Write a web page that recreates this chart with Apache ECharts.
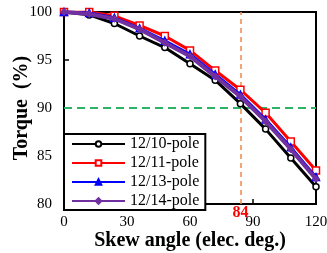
<!DOCTYPE html>
<html><head><meta charset="utf-8">
<script src="https://cdn.jsdelivr.net/npm/echarts@6/dist/echarts.min.js"></script>
<style>html,body{margin:0;padding:0;background:#fff}#c{width:327px;height:253px}</style>
</head><body><div id="c"></div>
<script>
const skewAngles = [0, 12, 24, 36, 48, 60, 72, 84, 96, 108, 120];
const pole10 = [100, 99.7, 98.8, 97.5, 96.3, 94.6, 92.9, 90.45, 87.8, 84.8, 81.8];
const pole11 = [100, 100.0, 99.6, 98.6, 97.5, 96.0, 93.9, 91.9, 89.5, 86.5, 83.5];
const pole13 = [100, 99.9, 99.4, 98.3, 97.0, 95.6, 93.5, 91.4, 88.8, 85.9, 82.8];
const pole14 = [100, 99.8, 99.3, 98.2, 96.8, 95.4, 93.3, 91.2, 88.6, 85.7, 82.6];
const seriesNames = ['12/10-pole', '12/11-pole', '12/13-pole', '12/14-pole'];
const xTicks = [0, 30, 60, 90, 120];
const yTicks = [80, 85, 90, 95, 100];
const refAngle = 84;
const refTorque = 90;

const font = 'Liberation Serif';
const pair = arr => skewAngles.map((x, i) => [x, arr[i]]);
const chart = echarts.init(document.getElementById('c'), null, {renderer: 'canvas'});

const styles = [
  {color: '#000000', symbol: 'circle', size: 6, fill: '#ffffff', width: 3},
  {color: '#ff0000', symbol: 'rect', size: 7, fill: '#ffffff', width: 3},
  {color: '#0000ff', symbol: 'triangle', size: 7, fill: '#0000ff', width: 3},
  {color: '#7030a0', symbol: 'diamond', size: 6, fill: '#7030a0', width: 4}
];
const data = [pole10, pole11, pole13, pole14];

const series = data.map((d, i) => ({
  name: seriesNames[i],
  type: 'line',
  data: pair(d),
  symbol: styles[i].symbol,
  symbolSize: styles[i].size,
  showAllSymbol: true,
  lineStyle: {color: styles[i].color, width: styles[i].width},
  itemStyle: {color: styles[i].fill, borderColor: styles[i].color, borderWidth: 1.5},
  z: 3 + i
}));

series[0].markLine = {
  silent: true,
  symbol: 'none',
  z: 2,
  data: [
    {xAxis: refAngle, lineStyle: {color: '#f0884a', type: [5, 4], width: 1.5},
     label: {show: true, position: 'start', formatter: String(refAngle), color: '#ff0000',
             fontFamily: font, fontWeight: 'bold', fontSize: 16, distance: 1}},
    {yAxis: refTorque, lineStyle: {color: '#2bb366', type: [8, 5], width: 2},
     label: {show: false}}
  ]
};

chart.setOption({
  animation: false,
  backgroundColor: '#ffffff',
  grid: {left: 64, right: 11, top: 12, bottom: 49, show: true, borderColor: '#000', borderWidth: 2,
         containLabel: false, outerBoundsMode: 'none'},
  legend: {
    data: seriesNames,
    orient: 'vertical',
    left: 64, top: 134,
    itemWidth: 53, itemHeight: 7, itemGap: 3,
    padding: [2, 6, 1, 7],
    borderColor: '#000', borderWidth: 2,
    backgroundColor: '#ffffff',
    textStyle: {fontFamily: font, fontSize: 16, color: '#000', lineHeight: 14, padding: [0, 0, 0, 0]}
  },
  xAxis: {
    type: 'value', min: 0, max: 120, interval: 30,
    name: 'Skew angle (elec. deg.)', nameLocation: 'middle', nameGap: 27, nameMoveOverlap: false,
    nameTextStyle: {fontFamily: font, fontWeight: 'bold', fontSize: 20, color: '#000'},
    axisLine: {lineStyle: {color: '#000', width: 2}},
    axisTick: {inside: true, length: 5, lineStyle: {color: '#000', width: 1.5}},
    axisLabel: {fontFamily: font, fontSize: 15, color: '#000', margin: 11,
                formatter: v => xTicks.includes(v) ? String(v) : ''},
    splitLine: {show: false}
  },
  yAxis: {
    type: 'value', min: 80, max: 100, interval: 5,
    name: 'Torque  (%)', nameLocation: 'middle', nameGap: 32, nameMoveOverlap: false,
    nameTextStyle: {fontFamily: font, fontWeight: 'bold', fontSize: 20, color: '#000'},
    axisLine: {lineStyle: {color: '#000', width: 2}},
    axisTick: {inside: true, length: 5, lineStyle: {color: '#000', width: 1.5}},
    axisLabel: {fontFamily: font, fontSize: 15, color: '#000', margin: 12,
                formatter: v => yTicks.includes(v) ? String(v) : ''},
    splitLine: {show: false}
  },
  series: series
});
</script></body></html>
